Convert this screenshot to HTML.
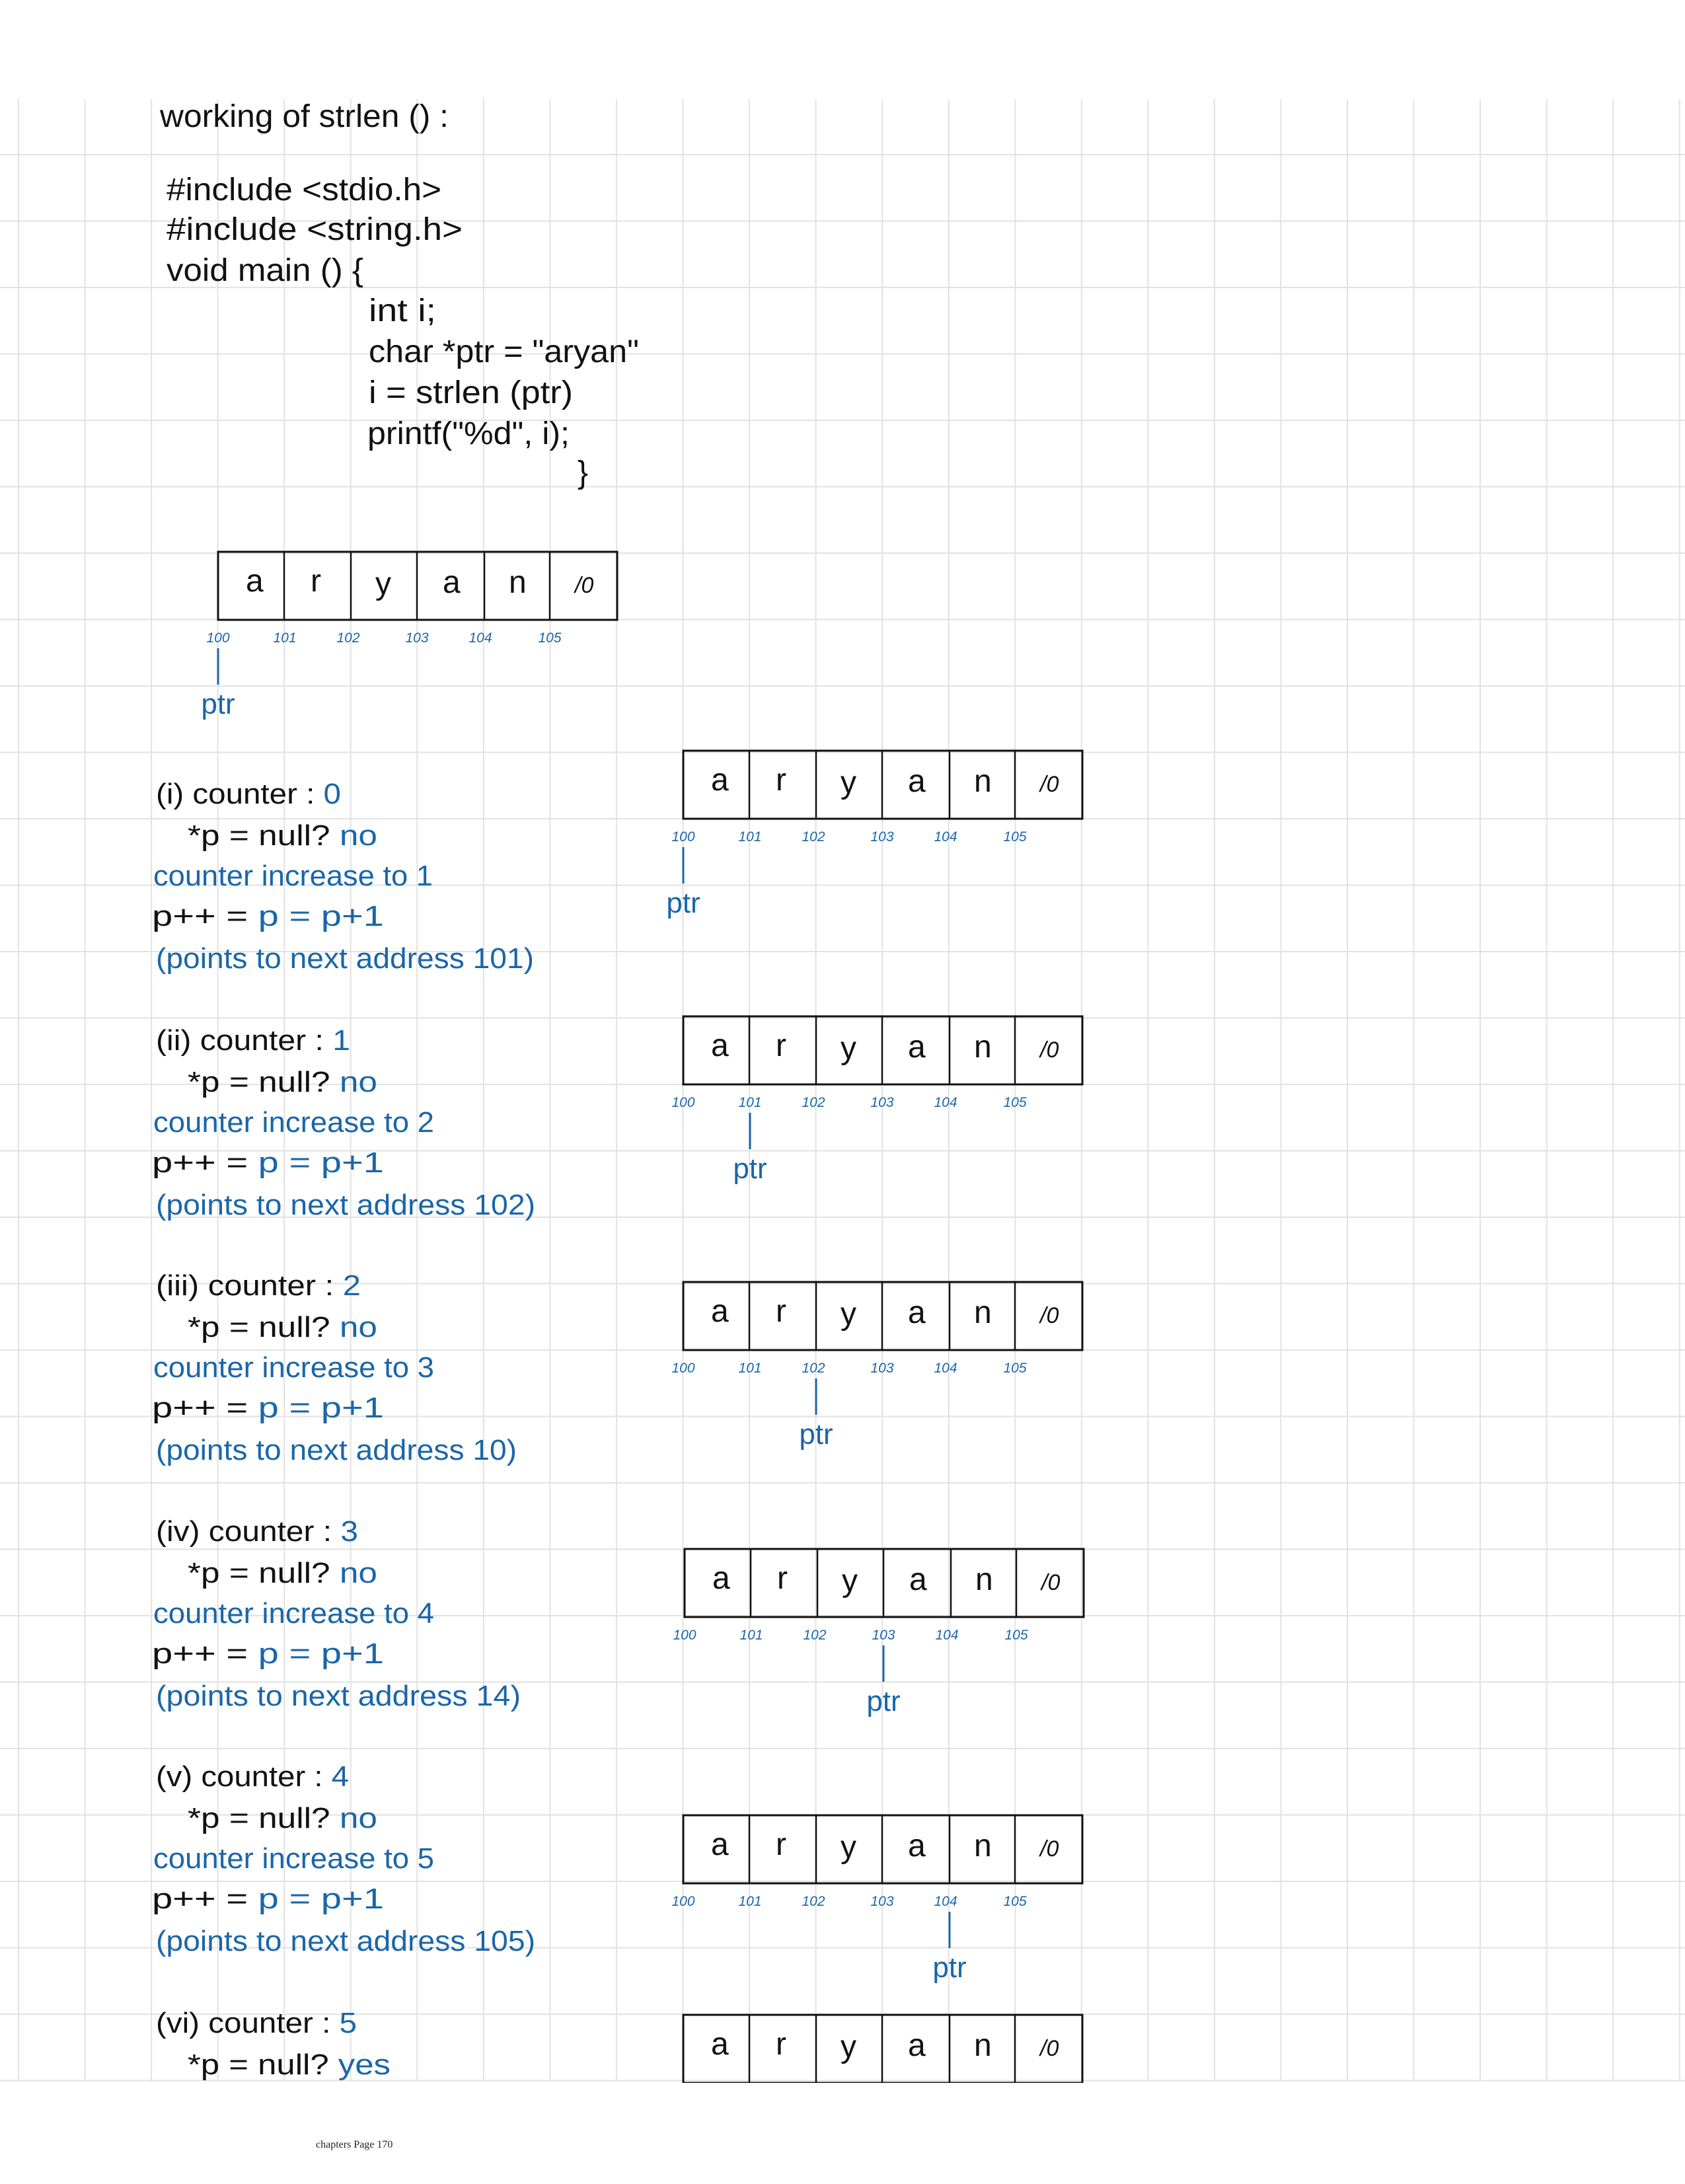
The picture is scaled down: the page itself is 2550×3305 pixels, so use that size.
<!DOCTYPE html>
<html><head><meta charset="utf-8"><style>
html,body{margin:0;padding:0;background:#fff}
svg{display:block}
text{font-family:"Liberation Sans",sans-serif}
.k{fill:#111}
.b{fill:#1a66aa}
.c{font-size:48px;fill:#111}
.ad{font-size:21px;fill:#1a66aa;font-style:italic}
.pt{font-size:44px;fill:#1a66aa}
.st{font-size:44px}
</style></head><body>
<svg width="2550" height="3305" viewBox="0 0 2550 3305" xmlns="http://www.w3.org/2000/svg">
<defs>
<pattern id="g" x="27" y="233" width="100.55" height="100.5" patternUnits="userSpaceOnUse">
<path d="M1 0V100.5M0 1H100.55" stroke="#e2e2e2" stroke-width="2" fill="none"/>
</pattern>
<g id="arr">
<rect x="0" y="0" width="604" height="103" fill="none" stroke="#111" stroke-width="3"/>
<path d="M100 0V103M201 0V103M301 0V103M403 0V103M502 0V103" stroke="#111" stroke-width="2.5"/>
<text class="c" x="42" y="60">a</text>
<text class="c" x="140" y="60">r</text>
<text class="c" x="238" y="64">y</text>
<text class="c" x="340" y="62">a</text>
<text class="c" x="440" y="62">n</text>
<text x="540" y="62" style="font-size:34px;fill:#111;font-style:italic">/0</text>
</g>
<g id="adr">
<text class="ad" x="0" y="137" text-anchor="middle">100</text>
<text class="ad" x="101" y="137" text-anchor="middle">101</text>
<text class="ad" x="197" y="137" text-anchor="middle">102</text>
<text class="ad" x="301" y="137" text-anchor="middle">103</text>
<text class="ad" x="397" y="137" text-anchor="middle">104</text>
<text class="ad" x="502" y="137" text-anchor="middle">105</text>
</g>
<g id="ptr">
<path d="M0 146V201" stroke="#1a66aa" stroke-width="3"/>
<text class="pt" x="0" y="245" text-anchor="middle">ptr</text>
</g>
</defs>
<rect x="0" y="150" width="2550" height="3000" fill="url(#g)"/>

<text x="242" y="192" class="k" style="font-size:48px" textLength="437" lengthAdjust="spacingAndGlyphs">working of strlen () :</text>
<text x="252" y="303" class="k" style="font-size:48px" textLength="416" lengthAdjust="spacingAndGlyphs">#include &lt;stdio.h&gt;</text>
<text x="252" y="363" class="k" style="font-size:48px" textLength="448" lengthAdjust="spacingAndGlyphs">#include &lt;string.h&gt;</text>
<text x="252" y="425" class="k" style="font-size:48px" textLength="298" lengthAdjust="spacingAndGlyphs">void main () {</text>
<text x="558" y="486" class="k" style="font-size:48px" textLength="102" lengthAdjust="spacingAndGlyphs">int i;</text>
<text x="558" y="548" class="k" style="font-size:48px" textLength="409" lengthAdjust="spacingAndGlyphs">char *ptr = "aryan"</text>
<text x="558" y="610" class="k" style="font-size:48px" textLength="309" lengthAdjust="spacingAndGlyphs">i = strlen (ptr)</text>
<text x="556" y="672" class="k" style="font-size:48px" textLength="306" lengthAdjust="spacingAndGlyphs">printf("%d", i);</text>
<text x="874" y="731" class="k" style="font-size:48px">}</text>

<g transform="translate(330,835)"><use href="#arr"/><use href="#adr"/><use href="#ptr"/></g>

<!-- step i -->
<g transform="translate(0,1216)">
<text x="236" y="0" class="st k" textLength="280" lengthAdjust="spacingAndGlyphs">(i) counter : <tspan class="b">0</tspan></text>
<text x="284" y="63" class="st k" textLength="287" lengthAdjust="spacingAndGlyphs">*p = null? <tspan class="b">no</tspan></text>
<text x="232" y="124" class="st b" textLength="423" lengthAdjust="spacingAndGlyphs">counter increase to 1</text>
<text x="230" y="185" class="st k" textLength="351" lengthAdjust="spacingAndGlyphs">p++ = <tspan class="b">p = p+1</tspan></text>
<text x="236" y="249" class="st b" textLength="572" lengthAdjust="spacingAndGlyphs">(points to next address 101)</text>
</g>
<g transform="translate(1034,1136)"><use href="#arr"/><use href="#adr"/><use href="#ptr" x="0"/></g>

<!-- step ii -->
<g transform="translate(0,1589)">
<text x="236" y="0" class="st k" textLength="294" lengthAdjust="spacingAndGlyphs">(ii) counter : <tspan class="b">1</tspan></text>
<text x="284" y="63" class="st k" textLength="287" lengthAdjust="spacingAndGlyphs">*p = null? <tspan class="b">no</tspan></text>
<text x="232" y="124" class="st b" textLength="425" lengthAdjust="spacingAndGlyphs">counter increase to 2</text>
<text x="230" y="185" class="st k" textLength="351" lengthAdjust="spacingAndGlyphs">p++ = <tspan class="b">p = p+1</tspan></text>
<text x="236" y="249" class="st b" textLength="574" lengthAdjust="spacingAndGlyphs">(points to next address 102)</text>
</g>
<g transform="translate(1034,1538)"><use href="#arr"/><use href="#adr"/><use href="#ptr" x="101"/></g>

<!-- step iii -->
<g transform="translate(0,1960)">
<text x="236" y="0" class="st k" textLength="310" lengthAdjust="spacingAndGlyphs">(iii) counter : <tspan class="b">2</tspan></text>
<text x="284" y="63" class="st k" textLength="287" lengthAdjust="spacingAndGlyphs">*p = null? <tspan class="b">no</tspan></text>
<text x="232" y="124" class="st b" textLength="425" lengthAdjust="spacingAndGlyphs">counter increase to 3</text>
<text x="230" y="185" class="st k" textLength="351" lengthAdjust="spacingAndGlyphs">p++ = <tspan class="b">p = p+1</tspan></text>
<text x="236" y="249" class="st b" textLength="546" lengthAdjust="spacingAndGlyphs">(points to next address 10)</text>
</g>
<g transform="translate(1034,1940)"><use href="#arr"/><use href="#adr"/><use href="#ptr" x="201"/></g>

<!-- step iv -->
<g transform="translate(0,2332)">
<text x="236" y="0" class="st k" textLength="306" lengthAdjust="spacingAndGlyphs">(iv) counter : <tspan class="b">3</tspan></text>
<text x="284" y="63" class="st k" textLength="287" lengthAdjust="spacingAndGlyphs">*p = null? <tspan class="b">no</tspan></text>
<text x="232" y="124" class="st b" textLength="425" lengthAdjust="spacingAndGlyphs">counter increase to 4</text>
<text x="230" y="185" class="st k" textLength="351" lengthAdjust="spacingAndGlyphs">p++ = <tspan class="b">p = p+1</tspan></text>
<text x="236" y="249" class="st b" textLength="552" lengthAdjust="spacingAndGlyphs">(points to next address 14)</text>
</g>
<g transform="translate(1036,2344)"><use href="#arr"/><use href="#adr"/><use href="#ptr" x="301"/></g>

<!-- step v -->
<g transform="translate(0,2703)">
<text x="236" y="0" class="st k" textLength="292" lengthAdjust="spacingAndGlyphs">(v) counter : <tspan class="b">4</tspan></text>
<text x="284" y="63" class="st k" textLength="287" lengthAdjust="spacingAndGlyphs">*p = null? <tspan class="b">no</tspan></text>
<text x="232" y="124" class="st b" textLength="425" lengthAdjust="spacingAndGlyphs">counter increase to 5</text>
<text x="230" y="185" class="st k" textLength="351" lengthAdjust="spacingAndGlyphs">p++ = <tspan class="b">p = p+1</tspan></text>
<text x="236" y="249" class="st b" textLength="574" lengthAdjust="spacingAndGlyphs">(points to next address 105)</text>
</g>
<g transform="translate(1034,2747)"><use href="#arr"/><use href="#adr"/><use href="#ptr" x="403"/></g>

<!-- step vi -->
<g transform="translate(0,3076)">
<text x="236" y="0" class="st k" textLength="304" lengthAdjust="spacingAndGlyphs">(vi) counter : <tspan class="b">5</tspan></text>
<text x="284" y="63" class="st k" textLength="307" lengthAdjust="spacingAndGlyphs">*p = null? <tspan class="b">yes</tspan></text>
</g>
<g transform="translate(1034,3049)"><use href="#arr"/></g>
<rect x="0" y="3152" width="2550" height="153" fill="#fff"/>

<text x="478" y="3250" style="font-family:'Liberation Serif',serif;font-size:16px;fill:#222">chapters Page 170</text>
</svg>
</body></html>
